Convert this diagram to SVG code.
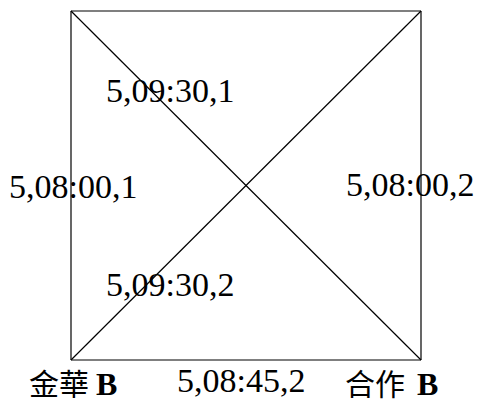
<svg xmlns="http://www.w3.org/2000/svg" width="480" height="403" viewBox="0 0 480 403">
<style>
.edge{stroke:#000;stroke-width:1.2;fill:none}
.lbl{font-family:"Liberation Serif","Times New Roman",serif;font-size:34px;fill:#000}
.cjk{font-family:"Noto Sans CJK TC","Noto Sans CJK SC",sans-serif;font-size:30px;fill:#000}
.b{font-family:"Liberation Serif","Times New Roman",serif;font-weight:bold;font-size:32px;fill:#000}
</style>
<rect width="480" height="403" fill="#fff"/>
<g id="connectors">
<line class="edge" x1="71" y1="11" x2="421" y2="11"/>
<line class="edge" x1="71" y1="11" x2="71" y2="360"/>
<line class="edge" x1="421" y1="11" x2="421" y2="360"/>
<line class="edge" x1="71" y1="360" x2="421" y2="360"/>
<line class="edge" x1="71" y1="11" x2="421" y2="360"/>
<line class="edge" x1="421" y1="11" x2="71" y2="360"/>
</g>
<g id="edge-labels">
<text class="lbl" x="106" y="102">5,09:30,1</text>
<text class="lbl" x="9" y="198">5,08:00,1</text>
<text class="lbl" x="346" y="196">5,08:00,2</text>
<text class="lbl" x="106" y="296">5,09:30,2</text>
<text class="lbl" x="177" y="392">5,08:45,2</text>
</g>
<g id="node-jinhua">
<text class="cjk" x="29" y="395">金華</text>
<text class="b" x="96" y="395">B</text>
</g>
<g id="node-hezuo">
<text class="cjk" x="345" y="395">合作</text>
<text class="b" x="417" y="395">B</text>
</g>
</svg>
